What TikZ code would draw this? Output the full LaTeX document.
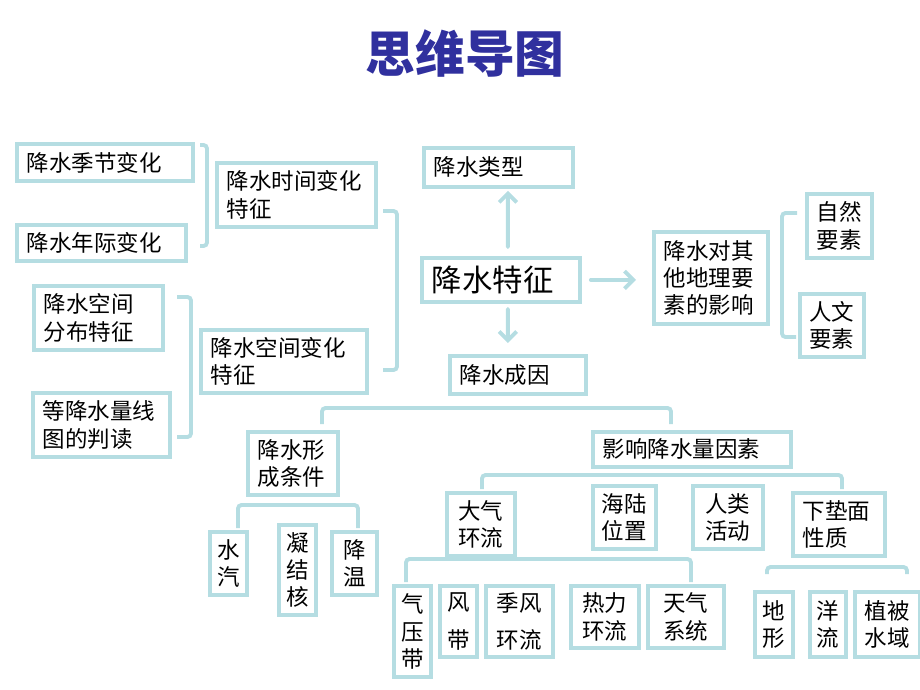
\documentclass[tikz,border=0pt]{standalone}
\usepackage{fontspec}
\setmainfont{Noto Sans CJK SC}
\usepackage{xcolor}
\usetikzlibrary{arrows.meta}

\definecolor{boxblue}{RGB}{181,221,226}
\definecolor{titleblue}{RGB}{48,48,158}

\tikzset{
  box/.style={draw=boxblue, line width=2.2pt, anchor=north west, align=left,
    inner xsep=0.2cm, inner ysep=0pt, font=\fontsize{12.8}{15.6}\selectfont},
  nbox/.style={box, align=center, inner xsep=0pt},
  brk/.style={draw=boxblue, line width=2.2pt, rounded corners=2pt},
  arr/.style={draw=boxblue, line width=2.2pt, line cap=round,
    -{Straight Barb[length=5pt,width=10pt]}},
  titletext/.style={text=titleblue, font=\fontsize{28.3}{32}\selectfont\bfseries}
}

\begin{document}
\begin{tikzpicture}[x=0.02cm, y=-0.02cm]
    \useasboundingbox (0,0) rectangle (920,690);

    \node[titletext] (title) at (465,54) {思维导图};

    \node[box, text width=3.12cm, minimum height=0.74cm] (season) at (15,142) {降水季节变化};
    \node[box, text width=2.98cm, minimum height=0.72cm] (annual) at (15,223) {降水年际变化};
    \node[box, text width=2.78cm, minimum height=1.28cm] (timechg) at (215,161) {降水时间变化\\特征};
    \node[box, text width=2.18cm, minimum height=1.28cm] (spacedist) at (32,284) {降水空间\\分布特征};
    \node[box, text width=2.34cm, minimum height=1.28cm] (isohyet) at (31,391) {等降水量线\\图的判读};
    \node[box, text width=2.92cm, minimum height=1.26cm] (spacechg) at (199,328) {降水空间变化\\特征};

    \node[box, text width=2.58cm, minimum height=0.78cm] (types) at (422,146) {降水类型};
    \node[box, text width=2.76cm, minimum height=0.88cm, font=\fontsize{17.3}{20}\selectfont] (feature) at (420,256) {降水特征};
    \node[box, text width=2.32cm, minimum height=0.76cm] (causes) at (448,354) {降水成因};
    \node[box, text width=1.88cm, minimum height=1.84cm] (impact) at (652,230) {降水对其\\他地理要\\素的影响};
    \node[nbox, text width=1.30cm, minimum height=1.28cm] (natural) at (805,192) {自然\\要素};
    \node[nbox, text width=1.28cm, minimum height=1.26cm] (humanf) at (798,292) {人文\\要素};

    \node[box, text width=1.40cm, minimum height=1.26cm] (formation) at (246,430) {降水形\\成条件};
    \node[box, text width=3.56cm, minimum height=0.70cm] (factors) at (591,430) {影响降水量因素};
    \node[nbox, text width=1.36cm, minimum height=1.26cm] (circulation) at (445,491) {大气\\环流};
    \node[nbox, text width=1.26cm, minimum height=1.26cm] (landsea) at (591,484) {海陆\\位置};
    \node[nbox, text width=1.40cm, minimum height=1.26cm] (humanact) at (691,484) {人类\\活动};
    \node[box, text width=1.44cm, minimum height=1.26cm] (surface) at (791,491) {下垫面\\性质};

    \node[nbox, text width=0.74cm, minimum height=1.26cm] (vapor) at (208,530) {水\\汽};
    \node[nbox, text width=0.74cm, minimum height=1.80cm] (nuclei) at (277,523) {凝\\结\\核};
    \node[nbox, text width=0.90cm, minimum height=1.26cm] (cooling) at (330,530) {降\\温};

    \node[nbox, text width=0.74cm, minimum height=1.82cm] (pressure) at (392,584) {气\\压\\带};
    \node[nbox, text width=0.74cm, minimum height=1.42cm] (belt) at (438,584) {风\\[2mm]带};
    \node[nbox, text width=1.34cm, minimum height=1.42cm] (monsoon) at (484,584) {季风\\[2mm]环流};
    \node[nbox, text width=1.36cm, minimum height=1.24cm] (thermal) at (569,584) {热力\\环流};
    \node[nbox, text width=1.52cm, minimum height=1.24cm] (weather) at (646,584) {天气\\系统};
    \node[nbox, text width=0.76cm, minimum height=1.30cm] (terrain) at (753,590) {地\\形};
    \node[nbox, text width=0.72cm, minimum height=1.30cm] (current) at (808,590) {洋\\流};
    \node[nbox, text width=1.30cm, minimum height=1.30cm] (vegwater) at (853,590) {植被\\水域};

    % arrows out of the centre box
    \draw[arr] ([xshift=0.14cm,yshift=0.18cm]feature.north) -- ([xshift=0.19cm,yshift=-0.04cm]types.south);
    \draw[arr] ([xshift=0.14cm,yshift=-0.10cm]feature.south) -- ([xshift=-0.20cm,yshift=0.22cm]causes.north);
    \draw[arr] ([xshift=0.18cm]feature.east) -- ([xshift=-0.32cm]feature.east -| impact.west);

    % brackets
    \draw[brk] (200,145) -- (207,145) -- (207,246) -- (200,246);
    \draw[brk] (177,297) -- (191,297) -- (191,437) -- (177,437);
    \draw[brk] (383,211) -- (397,211) -- (397,370) -- (383,370);
    \draw[brk] (797,213) -- (782,213) -- (782,337) -- (796,337);
    \draw[brk] (322,424) -- (322,408) -- (671,408) -- (671,424);
    \draw[brk] (482,489) -- (482,475) -- (842,475) -- (842,489);
    \draw[brk] (238,528) -- (238,505) -- (358,505) -- (358,528);
    \draw[brk] (406,582) -- (406,559) -- (691,559) -- (691,582);
    \draw[brk] (767,574) -- (767,567) -- (907,567) -- (907,574);

\end{tikzpicture}
\end{document}
